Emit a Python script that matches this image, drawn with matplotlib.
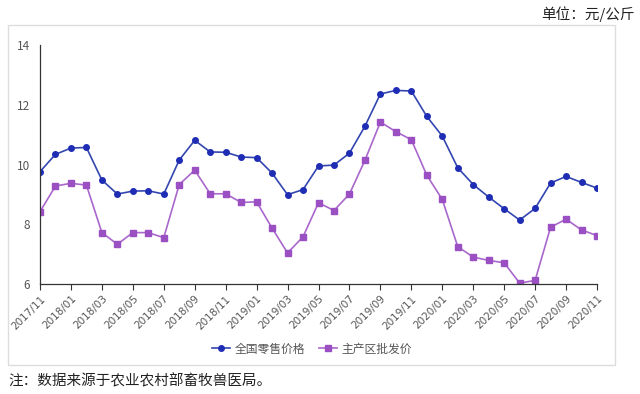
import numpy as np
import matplotlib.pyplot as plt
from matplotlib.patches import Rectangle

plt.rcParams['font.family'] = ['Noto Sans CJK SC', 'DejaVu Sans']

# Mois de 2017/11 a 2020/11
mois = []
for i in range(37):
    m = 11 + i
    annee = 2017 + (m - 1) // 12
    mm = (m - 1) % 12 + 1
    mois.append(f"{annee}/{mm:02d}")

# Prix de detail national (yuan/kg)
detail = [9.76, 10.34, 10.55, 10.57, 9.48, 9.01, 9.11, 9.12, 9.01, 10.15,
          10.81, 10.42, 10.41, 10.25, 10.23, 9.71, 8.99, 9.16, 9.95, 9.98,
          10.38, 11.28, 12.36, 12.48, 12.46, 11.61, 10.95, 9.89, 9.33, 8.91,
          8.52, 8.14, 8.53, 9.38, 9.60, 9.40, 9.21]

# Prix de gros des zones de production
gros = [8.42, 9.28, 9.37, 9.31, 7.72, 7.33, 7.72, 7.72, 7.55, 9.33,
        9.81, 9.02, 9.02, 8.73, 8.75, 7.87, 7.04, 7.58, 8.72, 8.46,
        9.01, 10.14, 11.42, 11.10, 10.83, 9.64, 8.83, 7.25, 6.90, 6.79,
        6.71, 6.03, 6.12, 7.90, 8.17, 7.81, 7.62]

noms = ["全国零售价格", "主产区批发价"]

# =========================
# Figure
fig = plt.figure(figsize=(6.4, 3.94), dpi=100)
fig.patches.append(Rectangle((8 / 640, 1 - 365 / 394), 607 / 640, 340 / 394,
                             transform=fig.transFigure, fill=False,
                             edgecolor="#dddddd", linewidth=1.0))

ax = fig.add_axes([40 / 640, 1 - 284 / 394, 557 / 640, 239 / 394])
x = np.arange(len(mois))

ax.plot(x, detail, color="#3346b0", linewidth=1.2, marker="o", markersize=4,
        markerfacecolor="#1f2db5", markeredgecolor="#1f2db5", label=noms[0])
ax.plot(x, gros, color="#a967cc", linewidth=1.2, marker="s", markersize=4,
        markerfacecolor="#9a4fc2", markeredgecolor="#9a4fc2", label=noms[1])

ax.set_xlim(0, 36)
ax.set_ylim(6, 14)
ax.set_yticks([6, 8, 10, 12, 14])
ax.set_xticks(x[::2])
ax.set_xticklabels(mois[::2], rotation=45, ha="right", rotation_mode="anchor",
                   fontsize=7.5, color="#555555", family="DejaVu Sans")
ax.tick_params(axis="y", length=0, labelsize=8.5, labelcolor="#555555", pad=7)
ax.tick_params(axis="x", direction="out", length=4, width=0.8, color="#333333", pad=3)

for s in ["top", "right"]:
    ax.spines[s].set_visible(False)
ax.spines["left"].set_color("#333333")
ax.spines["bottom"].set_color("#333333")
ax.spines["left"].set_linewidth(0.9)
ax.spines["bottom"].set_linewidth(0.9)

fig.legend(loc="center", bbox_to_anchor=(312 / 640, 1 - 349 / 394), ncol=2,
           frameon=False, fontsize=8.5, labelcolor="#555555", handlelength=1.5,
           columnspacing=1.2, handletextpad=0.4)

fig.text(635 / 640, 1 - 14 / 394, "单位：元/公斤", ha="right", va="center",
         fontsize=10.5, color="#222222")
fig.text(8 / 640, 1 - 381 / 394, "注：数据来源于农业农村部畜牧兽医局。", ha="left",
         va="center", fontsize=10.5, color="#222222")

fig.savefig("out.png", dpi=100)
